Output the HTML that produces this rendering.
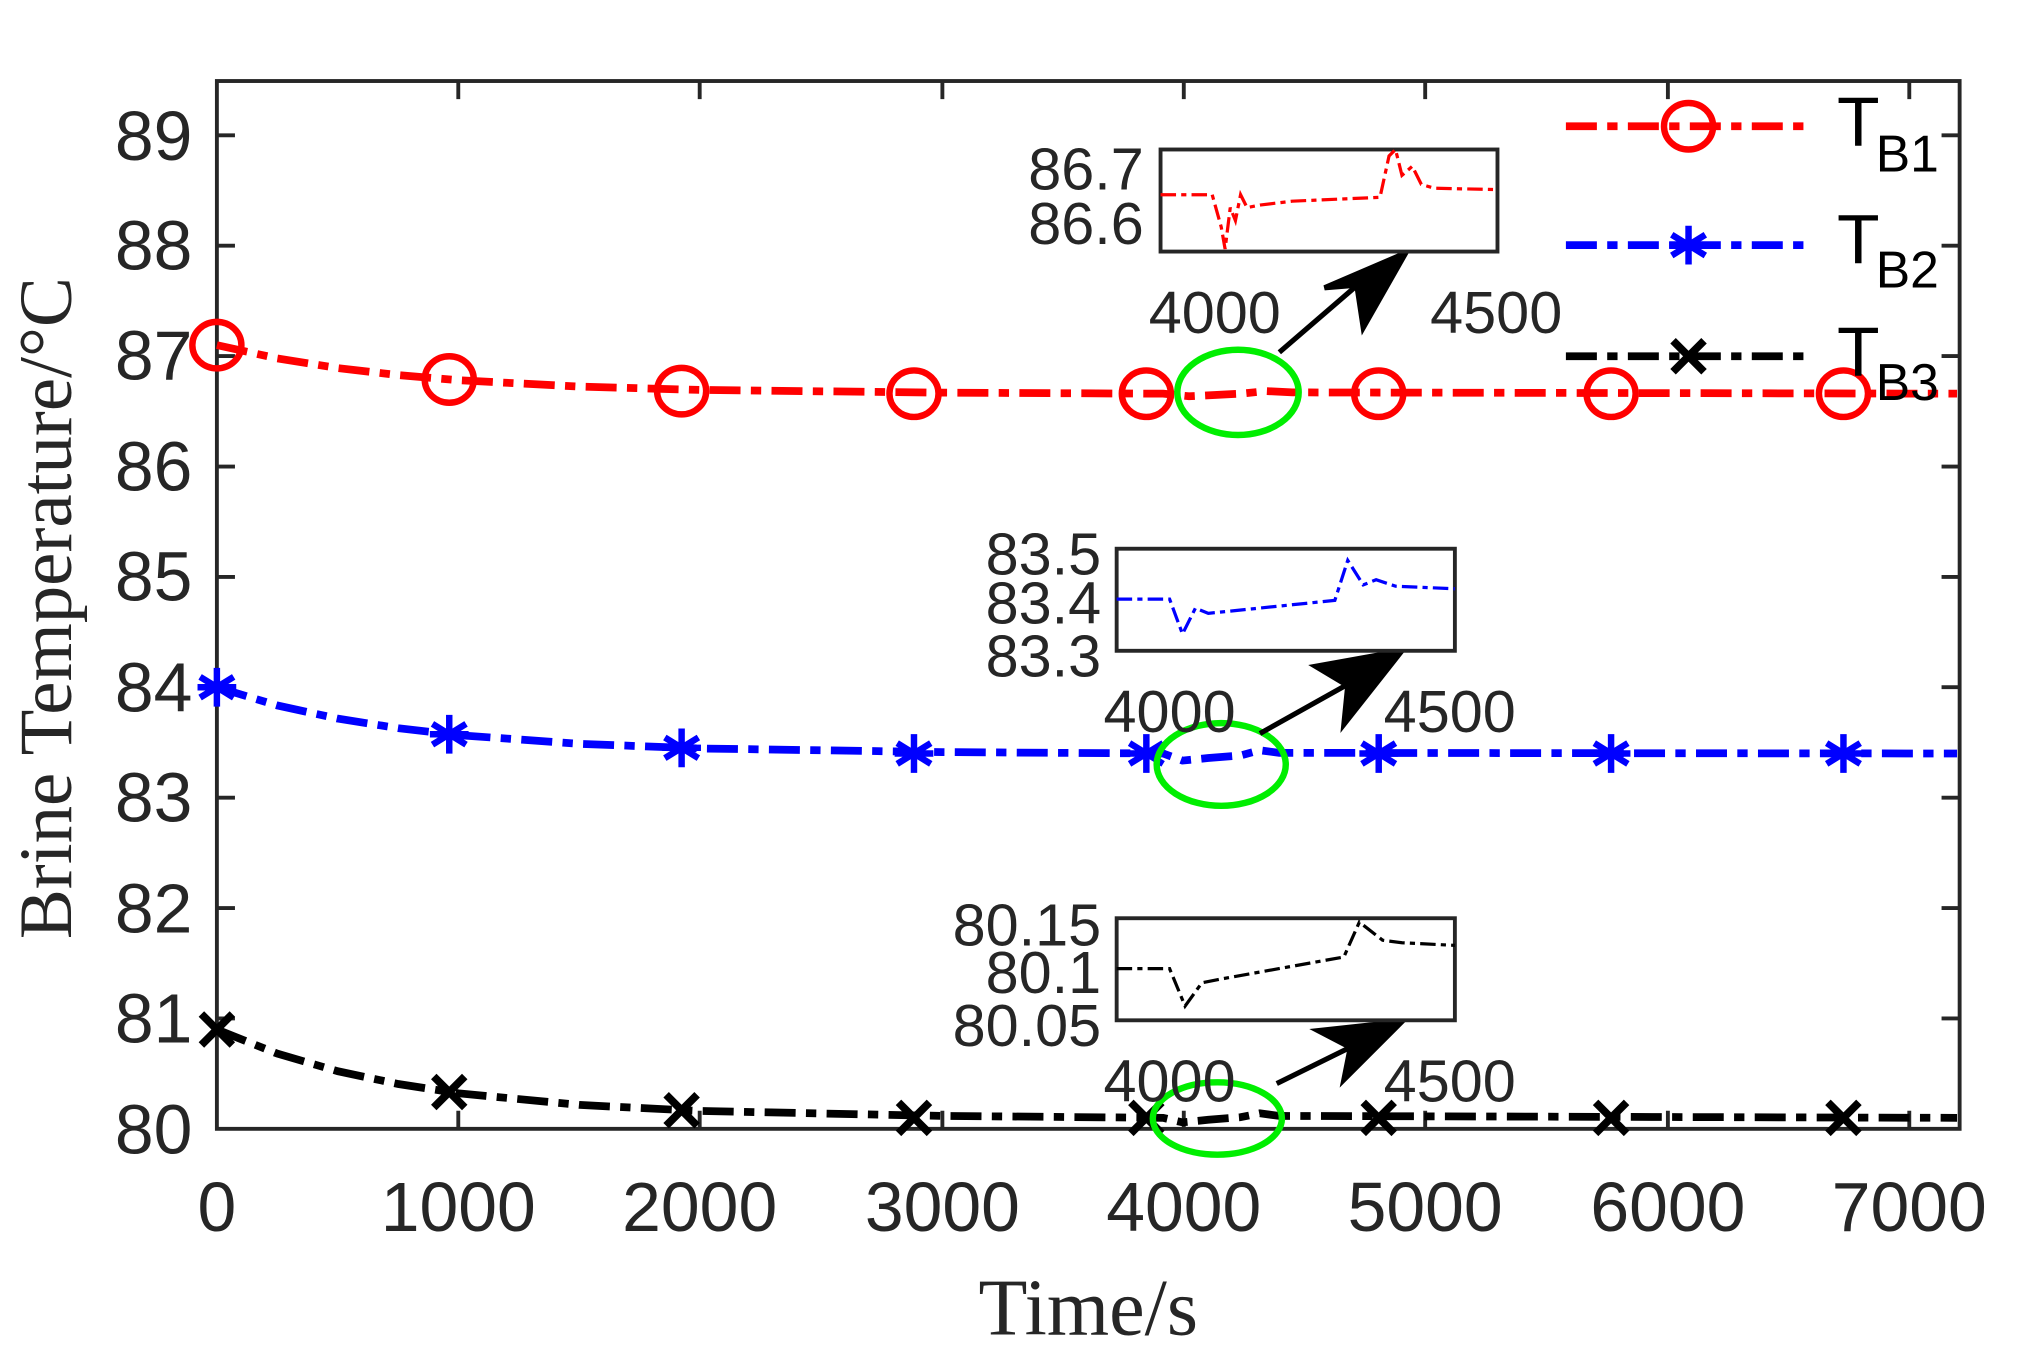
<!DOCTYPE html>
<html><head><meta charset="utf-8"><style>
html,body{margin:0;padding:0;background:#fff;}
svg{display:block;}
text{font-family:"Liberation Sans",sans-serif;fill:#262626;}
.s{font-family:"Liberation Serif",serif;fill:#262626;}
</style></head><body>
<svg width="2026" height="1360" viewBox="0 0 1560 1040" preserveAspectRatio="none" xmlns="http://www.w3.org/2000/svg">
<g transform="translate(1,0.7) scale(0.994,0.988)">
<rect x="167" y="62" width="1350" height="811" fill="none" stroke="#262626" stroke-width="3"/>
<g stroke="#262626" stroke-width="3">
<path d="M354 873v-14M541 873v-14M729 873v-14M916 873v-14M1103 873v-14M1291 873v-14M1478 873v-14
M354 62v14M541 62v14M729 62v14M916 62v14M1103 62v14M1291 62v14M1478 62v14"/>
<path d="M167 787.6h14M167 702.1h14M167 616.7h14M167 531.2h14M167 445.8h14M167 360.4h14M167 274.9h14M167 189.5h14M167 104h14
M1517 787.6h-14M1517 702.1h-14M1517 616.7h-14M1517 531.2h-14M1517 445.8h-14M1517 360.4h-14M1517 274.9h-14M1517 189.5h-14M1517 104h-14"/>
</g>
<g font-size="54" text-anchor="middle">
<text x="167" y="952">0</text><text x="354" y="952">1000</text><text x="541" y="952">2000</text><text x="729" y="952">3000</text>
<text x="916" y="952">4000</text><text x="1103" y="952">5000</text><text x="1291" y="952">6000</text><text x="1478" y="952">7000</text>
</g>
<g font-size="54" text-anchor="end">
<text x="148" y="892">80</text><text x="148" y="806">81</text><text x="148" y="721">82</text><text x="148" y="635">83</text>
<text x="148" y="550">84</text><text x="148" y="464">85</text><text x="148" y="379">86</text><text x="148" y="293">87</text>
<text x="148" y="208">88</text><text x="148" y="123">89</text>
</g>
<text class="s" x="842" y="1032" font-size="62" text-anchor="middle">Time/s</text>
<text class="s" font-size="58" text-anchor="middle" transform="translate(54,470) rotate(-90)">Brine Temperature/°C</text>

<g fill="none" stroke-width="6" stroke-dasharray="24 8 8 8">
<polyline stroke="#ff0000" points="167,266.4 213.8,276.7 260.6,284.2 307.5,289.6 354.3,293.6 447.9,298.5 541.5,301.1 728.8,303.2 900,304 920,306 940,305 960,304 980,302 1000,303 1515,304"/>
<polyline stroke="#0000ff" points="167,531.2 213.8,545.3 260.6,555.5 307.5,562.9 354.3,568.3 447.9,575 541.5,578.6 728.8,581.4 900,582.5 915,588 935,586 960,584 975,580 990,582 1515,582.5"/>
<polyline stroke="#000000" points="167,796.1 213.8,814.8 260.6,828.4 307.5,838.3 354.3,845.5 447.9,854.5 541.5,859.2 728.8,863 900,864.5 915,868 935,866 960,864 975,861 990,863 1515,864.5"/>
</g>
<g fill="none" stroke="#ff0000" stroke-width="5">
<ellipse cx="167" cy="266.4" rx="19" ry="18"/><ellipse cx="347" cy="293" rx="19" ry="18"/><ellipse cx="527" cy="302" rx="19" ry="18"/>
<ellipse cx="707" cy="304" rx="19" ry="18"/><ellipse cx="887" cy="304" rx="19" ry="18"/><ellipse cx="1067" cy="304" rx="19" ry="18"/>
<ellipse cx="1247" cy="304" rx="19" ry="18"/><ellipse cx="1427" cy="304" rx="19" ry="18"/>
<ellipse cx="1307" cy="97" rx="19" ry="18"/>
</g>
<g stroke="#0000ff" stroke-width="5">
<path d="M0 -15v30M-13 -8l26 16M-13 8l26 -16M-15 0h30" transform="translate(167,531.2)"/>
<path d="M0 -15v30M-13 -8l26 16M-13 8l26 -16M-15 0h30" transform="translate(347,567.6)"/>
<path d="M0 -15v30M-13 -8l26 16M-13 8l26 -16M-15 0h30" transform="translate(527,578.1)"/>
<path d="M0 -15v30M-13 -8l26 16M-13 8l26 -16M-15 0h30" transform="translate(707,582.5)"/>
<path d="M0 -15v30M-13 -8l26 16M-13 8l26 -16M-15 0h30" transform="translate(887,582.5)"/>
<path d="M0 -15v30M-13 -8l26 16M-13 8l26 -16M-15 0h30" transform="translate(1067,582.5)"/>
<path d="M0 -15v30M-13 -8l26 16M-13 8l26 -16M-15 0h30" transform="translate(1247,582.5)"/>
<path d="M0 -15v30M-13 -8l26 16M-13 8l26 -16M-15 0h30" transform="translate(1427,582.5)"/>
<path d="M0 -15v30M-13 -8l26 16M-13 8l26 -16M-15 0h30" transform="translate(1307,189)"/>
</g>
<g stroke="#000" stroke-width="6">
<path d="M-12 -12l24 24M-12 12l24 -24" transform="translate(167,796.1)"/>
<path d="M-12 -12l24 24M-12 12l24 -24" transform="translate(347,844.5)"/>
<path d="M-12 -12l24 24M-12 12l24 -24" transform="translate(527,858.6)"/>
<path d="M-12 -12l24 24M-12 12l24 -24" transform="translate(707,864.5)"/>
<path d="M-12 -12l24 24M-12 12l24 -24" transform="translate(887,864.5)"/>
<path d="M-12 -12l24 24M-12 12l24 -24" transform="translate(1067,864.5)"/>
<path d="M-12 -12l24 24M-12 12l24 -24" transform="translate(1247,864.5)"/>
<path d="M-12 -12l24 24M-12 12l24 -24" transform="translate(1427,864.5)"/>
<path d="M-12 -12l24 24M-12 12l24 -24" transform="translate(1307,275)"/>
</g>
<g stroke-width="6" stroke-dasharray="24 8 8 8">
<path d="M1212 97h190" stroke="#ff0000"/>
<path d="M1212 189h190" stroke="#0000ff"/>
<path d="M1212 275h190" stroke="#000"/>
</g>
<g font-size="54">
<text x="1422" y="112" style="fill:#000">T</text><text x="1452" y="132" font-size="40" style="fill:#000">B1</text>
<text x="1422" y="203" style="fill:#000">T</text><text x="1452" y="222" font-size="40" style="fill:#000">B2</text>
<text x="1422" y="290" style="fill:#000">T</text><text x="1452" y="309" font-size="40" style="fill:#000">B3</text>
</g>
<g fill="none" stroke="#00ee00" stroke-width="5">
<ellipse cx="958" cy="303" rx="47" ry="33"/>
<ellipse cx="945" cy="591" rx="50" ry="32"/>
<ellipse cx="942" cy="865" rx="50" ry="28"/>
</g>
<g stroke="#000" stroke-width="4" fill="#000">
<path d="M990 272L1062 210"/><path d="M1088 195L1025 222L1050 220L1055 253Z"/>
<path d="M975 567L1050 525"/><path d="M1085 503L1018 515L1043 530L1040 560Z"/>
<path d="M988 838L1055 805"/><path d="M1085 790L1020 797L1045 810L1040 835Z"/>
</g>
<g fill="#fff" stroke="#262626" stroke-width="3">
<rect x="898" y="115" width="261" height="79"/>
<rect x="864" y="424" width="262" height="79"/>
<rect x="864" y="710" width="262" height="79"/>
</g>
<g fill="none" stroke-width="2.5" stroke-dasharray="12 4 4 4">
<polyline stroke="#ff0000" points="898,150 938,150 945,175 948,192 952,160 956,170 960,150 965,160 975,158 1000,155 1068,152 1075,120 1080,115 1085,135 1093,128 1100,142 1110,145 1159,146"/>
<polyline stroke="#0000ff" points="864,463 905,463 915,490 925,470 935,474 1033,464 1043,433 1055,452 1065,448 1080,453 1126,455"/>
<polyline stroke="#000" points="864,749 905,749 917,778 930,760 945,757 1040,740 1052,713 1070,727 1085,729 1126,731"/>
</g>
<g font-size="46" text-anchor="end">
<text x="885" y="146">86.7</text><text x="885" y="188">86.6</text>
<text x="852" y="444">83.5</text><text x="852" y="482">83.4</text><text x="852" y="523">83.3</text>
<text x="852" y="731">80.15</text><text x="852" y="768">80.1</text><text x="852" y="809">80.05</text>
</g>
<g font-size="46" text-anchor="middle">
<text x="940" y="257">4000</text><text x="1158" y="257">4500</text>
<text x="905" y="566">4000</text><text x="1122" y="566">4500</text>
<text x="905" y="852">4000</text><text x="1122" y="852">4500</text>
</g>
</g>
</svg>
</body></html>
